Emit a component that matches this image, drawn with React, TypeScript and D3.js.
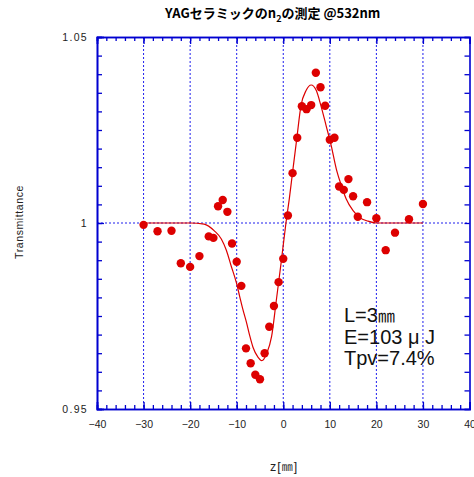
import * as d3 from "d3";
import React, { useRef, useEffect } from "react";

// measured points: z position [mm] and transmittance
const zData = [-30, -27, -24, -22, -20, -18, -16, -15, -14, -13, -12, -11, -10, -9, -8, -7, -6, -5, -4, -3, -2, -1, 0, 1,
  2, 3, 4, 5, 6, 7, 8, 9, 10, 11, 12, 13, 14, 15, 16, 18, 20, 22, 24, 27, 30];
const tData = [0.9995, 0.9978, 0.9979, 0.9892, 0.9882, 0.9911, 0.9964, 0.996, 1.0045, 1.0062, 1.003, 0.9945, 0.9896, 0.9831,
  0.9663, 0.9623, 0.9592, 0.958, 0.965, 0.9721, 0.9777, 0.9841, 0.9904, 1.002,
  1.0134, 1.0229, 1.0314, 1.0306, 1.0317, 1.0404, 1.0365, 1.0315, 1.0224, 1.0229, 1.0098, 1.0089, 1.0118, 1.0072, 1.0017,
  1.0056, 1.0013, 0.9927, 0.9974, 1.001, 1.0051];

// fitted curve
const zFit = [-30, -20, -17, -14.8, -13.3, -12.2, -11.2, -10.1, -9.4, -8.7, -7.9, -7.2, -6.5, -5.4, -4.6, -3.6, -2.5, -1.5,
  -0.4, 0.6, 1.3, 2.0, 2.9, 3.8, 4.9, 6.0, 7.1, 8.1, 9.2, 10.3, 11.4, 12.5, 13.5, 15.0, 16.4, 18.2, 20, 30];
const tFit = [1, 1, 0.9997, 0.9979, 0.9957, 0.9926, 0.9885, 0.9841, 0.9805, 0.9769, 0.9733, 0.9697, 0.9666, 0.9639, 0.963,
  0.9648, 0.9695, 0.9791, 0.9899, 1.0002, 1.0065, 1.0136, 1.0226, 1.0315, 1.0356, 1.0371, 1.0356, 1.0315, 1.0262, 1.0208,
  1.0145, 1.01, 1.0065, 1.0033, 1.0015, 1.0005, 1, 1];

const xTicks = [-40, -30, -20, -10, 0, 10, 20, 30, 40];
const yTicks = [0.95, 1, 1.05];
const yTickLabels = ["0.95", "1", "1.05"];
const notes = ["L=3", "E=103 μ J", "Tpv=7.4%"];

const W = 474;
const H = 477;
const left = 97;
const right = 469.5;
const top = 37;
const bottom = 409;
const axisColor = "#0000d0";
const red = "#dd0000";

export default function App() {
  const ref = useRef<SVGSVGElement>(null);

  useEffect(() => {
    const svg = d3.select(ref.current);
    svg.selectAll("*").remove();

    const x = d3.scaleLinear().domain([-40, 40]).range([left, right]);
    const y = d3.scaleLinear().domain([0.95, 1.05]).range([bottom, top]);

    const minorX = d3.range(-40, 40.1, 2);
    const minorY = d3.range(0.95, 1.0501, 0.005);

    // grid
    const grid = svg.append("g").attr("stroke", "#1f1fee").attr("stroke-width", 1).attr("stroke-dasharray", "2,2");
    grid.selectAll("line.v").data([-30, -20, -10, 0, 10, 20, 30]).enter().append("line")
      .attr("x1", (d) => x(d)).attr("x2", (d) => x(d)).attr("y1", top).attr("y2", bottom);
    grid.append("line").attr("x1", left).attr("x2", right).attr("y1", y(1)).attr("y2", y(1));

    // axes with inward ticks
    const font = "'Liberation Sans', Arial, sans-serif";
    svg.append("g").attr("transform", `translate(0,${bottom})`)
      .call(d3.axisBottom(x).tickValues(xTicks).tickSize(-7).tickPadding(12).tickFormat(d3.format("d")));
    svg.append("g").attr("transform", `translate(0,${bottom})`)
      .call(d3.axisBottom(x).tickValues(minorX).tickSize(-4).tickFormat(() => ""));
    svg.append("g").attr("transform", `translate(0,${top})`)
      .call(d3.axisTop(x).tickValues(minorX).tickSize(-4).tickFormat(() => ""));
    svg.append("g").attr("transform", `translate(0,${top})`)
      .call(d3.axisTop(x).tickValues(xTicks).tickSize(-7).tickFormat(() => ""));
    const leftAxis = svg.append("g").attr("transform", `translate(${left},0)`)
      .call(d3.axisLeft(y).tickValues(yTicks).tickSize(-7).tickPadding(9).tickFormat((d, i) => yTickLabels[i]));
    svg.append("g").attr("transform", `translate(${left},0)`)
      .call(d3.axisLeft(y).tickValues(minorY).tickSize(-5).tickFormat(() => ""));
    svg.append("g").attr("transform", `translate(${right},0)`)
      .call(d3.axisRight(y).tickValues(minorY).tickSize(-5).tickFormat(() => ""));

    svg.selectAll(".domain").attr("stroke", axisColor).attr("stroke-width", 1.6);
    svg.selectAll(".tick line").attr("stroke", axisColor).attr("stroke-width", 1.3);
    svg.selectAll(".tick text").attr("fill", "#222").attr("font-family", font).attr("font-size", 10.5);
    leftAxis.selectAll(".tick text").attr("letter-spacing", "1.3px");

    // fit curve
    const fit = zFit.map((z, i) => [z, tFit[i]] as [number, number]);
    svg.append("path").datum(fit)
      .attr("fill", "none").attr("stroke", red).attr("stroke-width", 1.2)
      .attr("d", d3.line<[number, number]>().x((d) => x(d[0])).y((d) => y(d[1])).curve(d3.curveMonotoneX));

    // measured points
    svg.append("g").selectAll("circle").data(zData).enter().append("circle")
      .attr("cx", (d) => x(d)).attr("cy", (d, i) => y(tData[i])).attr("r", 4.2).attr("fill", red);

    // title
    const title = svg.append("text").attr("x", 165).attr("y", 18)
      .attr("font-family", "'Noto Sans CJK JP', sans-serif").attr("font-weight", "bold").attr("font-size", 13)
      .attr("fill", "#000");
    title.append("tspan").text("YAGセラミックのn");
    title.append("tspan").attr("dy", 4).attr("font-size", 9).text("2");
    title.append("tspan").attr("dy", -4).text("の測定 @532nm");

    // axis titles
    const xl = svg.append("text").attr("x", 284).attr("y", 471).attr("text-anchor", "middle")
      .attr("font-family", font).attr("font-size", 12.5).attr("letter-spacing", "1px").attr("fill", "#222");
    xl.append("tspan").text("z[");
    xl.append("tspan").attr("font-family", "'Noto Sans CJK JP', sans-serif").attr("font-size", 11).text("㎜");
    xl.append("tspan").text("]");
    svg.append("text").attr("transform", "translate(23,222) rotate(-90)").attr("text-anchor", "middle")
      .attr("font-family", font).attr("font-size", 10.5).attr("letter-spacing", "0.6px").attr("fill", "#222")
      .text("Transmittance");

    // annotation
    const note = svg.append("g").attr("font-family", font).attr("font-size", 20).attr("fill", "#111");
    notes.forEach((t, i) => {
      const tx = note.append("text").attr("x", 344).attr("y", 322 + i * 21.5).text(t);
      if (i === 0) tx.append("tspan").attr("font-family", "'Noto Sans CJK JP', sans-serif").attr("font-size", 17).text("㎜");
    });
  }, []);

  useEffect(() => {
    document.body.style.margin = "0";
  }, []);

  return (
    <div>
      <svg ref={ref} width={W} height={H} style={{ display: "block", background: "#fff" }}></svg>
    </div>
  );
}
